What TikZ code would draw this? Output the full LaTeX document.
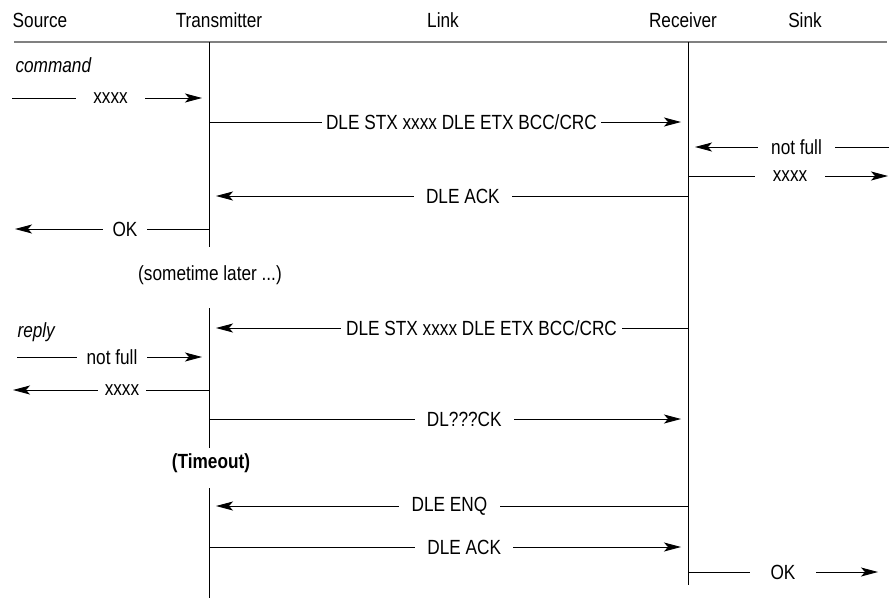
\documentclass[tikz,border=0pt]{standalone}
\usepackage{fontspec}
\setmainfont[FakeStretch=0.84]{Liberation Sans}
\usetikzlibrary{arrows.meta}
\tikzset{
  msg/.style={-{Stealth[length=17pt,width=9pt,inset=4pt]},line width=0.9pt},
  tolife/.style={msg,shorten >=7pt},
  lbl/.style={fill=white,inner xsep=#1,inner ysep=1pt,font=\fontsize{20.5}{24}\selectfont},
  lbl/.default=10pt,
  head/.style={font=\fontsize{20.5}{24}\selectfont},
  life/.style={line width=0.9pt},
  headrule/.style={gray,line width=1.6pt}
}

\begin{document}
\begin{tikzpicture}[x=1pt,y=-1pt]
    \useasboundingbox (0,0) rectangle (891,598);
    \def\tx{209}\def\rx{688}
    % column heads
    \node[head] (src)  at (40,20)  {Source};
    \node[head] (tmit) at (219,20) {Transmitter};
    \node[head] (link) at (443,20) {Link};
    \node[head] (recv) at (683,20) {Receiver};
    \node[head] (sink) at (805,20) {Sink};
    \draw[headrule] (14,42) -- (887,42);
    % lifelines
    \draw[life] (\tx,42) -- (\tx,247);
    \draw[life] (\tx,308) -- (\tx,448);
    \draw[life] (\tx,488) -- (\tx,598);
    \draw[life] (\rx,42) -- (\rx,585);
    % command
    \node[head,anchor=west] (cmd) at (12,65) {\itshape command};
    \coordinate (s1) at (12,98);  \coordinate (t1) at (\tx,98);
    \draw[tolife] (s1) -- node[lbl=17pt,pos=.50] (m1) {xxxx} (t1);
    \coordinate (t2) at (\tx,122); \coordinate (r2) at (\rx,122);
    \draw[tolife] (t2) -- node[lbl=4pt,pos=.527] (m2) {DLE STX xxxx DLE ETX BCC/CRC} (r2);
    \coordinate (k3) at (889,147); \coordinate (r3) at (\rx,147);
    \draw[tolife] (k3) -- node[lbl=13pt,pos=.46] (m3) {not full} (r3);
    \coordinate (r4) at (\rx,176); \coordinate (k4) at (888,176);
    \draw[msg] (r4) -- node[lbl=18pt,pos=.51] (m4) {xxxx} (k4);
    \coordinate (r5) at (\rx,196); \coordinate (t5) at (\tx,196);
    \draw[tolife] (r5) -- node[lbl=12pt,pos=.47] (m5) {DLE ACK} (t5);
    \coordinate (t6) at (\tx,229); \coordinate (s6) at (15,229);
    \draw[msg] (t6) -- node[lbl=10pt,pos=.433] (m6) {OK} (s6);
    \node[head] (later) at (210,275) {(sometime later ...)};
    % reply
    \node[head,anchor=west] (rep) at (14,332) {\itshape reply};
    \coordinate (r7) at (\rx,328); \coordinate (t7) at (\tx,328);
    \draw[tolife] (r7) -- node[lbl=5pt,pos=.431] (m7) {DLE STX xxxx DLE ETX BCC/CRC} (t7);
    \coordinate (s8) at (17,357); \coordinate (t8) at (\tx,357);
    \draw[tolife] (s8) -- node[lbl=10pt,pos=.495] (m8) {not full} (t8);
    \coordinate (t9) at (\tx,390); \coordinate (s9) at (13,390);
    \draw[msg] (t9) -- node[lbl=7pt,pos=.444] (m9) {xxxx} (s9);
    \coordinate (t10) at (\tx,419); \coordinate (r10) at (\rx,419);
    \draw[tolife] (t10) -- node[lbl=12pt,pos=.533] (m10) {DL???CK} (r10);
    \node[head,font=\fontsize{20.5}{24}\selectfont\bfseries] (tout) at (211,463) {(Timeout)};
    \coordinate (r11) at (\rx,506); \coordinate (t11) at (\tx,506);
    \draw[tolife] (r11) -- node[lbl=13pt,pos=.498] (m11) {DLE ENQ} (t11);
    \coordinate (t12) at (\tx,547); \coordinate (r12) at (\rx,547);
    \draw[tolife] (t12) -- node[lbl=12pt,pos=.533] (m12) {DLE ACK} (r12);
    \coordinate (r13) at (\rx,572); \coordinate (k13) at (878,572);
    \draw[msg] (r13) -- node[lbl=21pt,pos=.50] (m13) {OK} (k13);
\end{tikzpicture}
\end{document}
